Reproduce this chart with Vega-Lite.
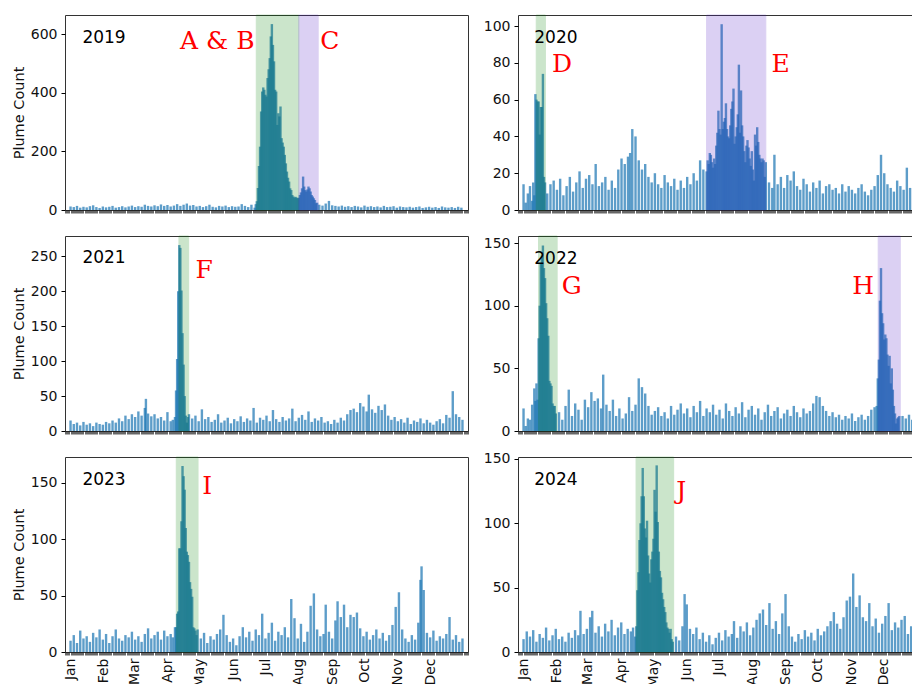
{
"$schema": "https://vega.github.io/schema/vega-lite/v6.json",
"background": "white",
"padding": {"left": 10, "top": 14, "right": 0, "bottom": 0},
"columns": 2,
"spacing": {"row": 26, "column": 50},
"bounds": "flush",
"config": {
 "view": {"stroke": "#333", "strokeWidth": 1},
 "axis": {"domain": false, "grid": false, "tickColor": "#000", "labelFont": "DejaVu Sans", "labelFontSize": 14, "labelColor": "#111", "labelOverlap": false, "titleFont": "DejaVu Sans", "titleFontSize": 14.5, "titleFontWeight": "normal", "titleColor": "#111"},
 "axisX": {"tickSize": 3, "tickWidth": 0.6, "labelAngle": -90, "labelOverlap": false, "labelFlush": false, "labelPadding": 3},
 "axisY": {"tickSize": 4, "labelPadding": 4, "titlePadding": 4, "labelOverlap": false}
},
"datasets": {
 "spans": [{"y":2019,"s":172.5,"e":212,"k":"g"},{"y":2019,"s":212,"e":230,"k":"p"},{"y":2020,"s":11.8,"e":20.3,"k":"g"},{"y":2020,"s":170,"e":225,"k":"p"},{"y":2021,"s":100.7,"e":109.7,"k":"g"},{"y":2022,"s":13.9,"e":31.2,"k":"g"},{"y":2022,"s":329.4,"e":349.9,"k":"p"},{"y":2023,"s":98.2,"e":118.4,"k":"g"},{"y":2024,"s":104.8,"e":139.8,"k":"g"}],
 "years": [{"y":2019,"d":11,"v":588,"t":"2019"},{"y":2020,"d":10,"v":93.6,"t":"2020"},{"y":2021,"d":11,"v":247,"t":"2021"},{"y":2022,"d":10,"v":137.4,"t":"2022"},{"y":2023,"d":11,"v":153,"t":"2023"},{"y":2024,"d":10,"v":133.6,"t":"2024"}],
 "letters": [{"y":2019,"d":101.6,"v":550,"t":"A & B"},{"y":2019,"d":232,"v":550,"t":"C"},{"y":2020,"d":26.4,"v":75,"t":"D"},{"y":2020,"d":230.2,"v":75,"t":"E"},{"y":2021,"d":116.1,"v":219.5,"t":"F"},{"y":2022,"d":35.5,"v":109.3,"t":"G"},{"y":2022,"d":305.4,"v":109.3,"t":"H"},{"y":2023,"d":122.4,"v":140.5,"t":"I"},{"y":2024,"d":142.2,"v":119,"t":"J"}],
 "b19": [{"d":0,"v":12},{"d":3,"v":10},{"d":6,"v":14},{"d":9,"v":8},{"d":12,"v":11},{"d":15,"v":9},{"d":18,"v":13},{"d":21,"v":16},{"d":24,"v":10},{"d":27,"v":7},{"d":30,"v":12},{"d":33,"v":9},{"d":36,"v":11},{"d":39,"v":14},{"d":42,"v":8},{"d":45,"v":10},{"d":48,"v":13},{"d":51,"v":9},{"d":54,"v":12},{"d":57,"v":15},{"d":60,"v":10},{"d":63,"v":13},{"d":66,"v":11},{"d":69,"v":18},{"d":72,"v":14},{"d":75,"v":12},{"d":78,"v":16},{"d":81,"v":13},{"d":84,"v":19},{"d":87,"v":14},{"d":90,"v":17},{"d":93,"v":12},{"d":96,"v":15},{"d":99,"v":20},{"d":102,"v":14},{"d":105,"v":18},{"d":108,"v":22},{"d":111,"v":15},{"d":114,"v":17},{"d":117,"v":12},{"d":120,"v":14},{"d":123,"v":10},{"d":126,"v":13},{"d":129,"v":18},{"d":132,"v":11},{"d":135,"v":9},{"d":138,"v":14},{"d":141,"v":12},{"d":144,"v":15},{"d":147,"v":10},{"d":150,"v":13},{"d":153,"v":11},{"d":156,"v":12},{"d":159,"v":20},{"d":162,"v":14},{"d":165,"v":10},{"d":168,"v":18},{"d":171,"v":8},
  {"d":172,"v":20},{"d":173,"v":30},{"d":174,"v":75},{"d":175,"v":150},{"d":176,"v":216},{"d":177,"v":336},{"d":178,"v":404},{"d":179,"v":418},{"d":180,"v":410},{"d":181,"v":393},{"d":182,"v":387},{"d":183,"v":450},{"d":184,"v":480},{"d":185,"v":518},{"d":186,"v":592},{"d":187,"v":634},{"d":188,"v":563},{"d":189,"v":507},{"d":190,"v":410},{"d":191,"v":404},{"d":192,"v":290},{"d":193,"v":330},{"d":194,"v":319},{"d":195,"v":353},{"d":196,"v":245},{"d":197,"v":230},{"d":198,"v":216},{"d":199,"v":188},{"d":200,"v":159},{"d":201,"v":131},{"d":202,"v":110},{"d":203,"v":97},{"d":204,"v":74},{"d":205,"v":68},{"d":206,"v":51},{"d":207,"v":46},{"d":208,"v":42},{"d":209,"v":45},{"d":210,"v":42},{"d":211,"v":40},{"d":212,"v":42},
  {"d":213,"v":51},{"d":214,"v":60},{"d":215,"v":74},{"d":216,"v":114},{"d":217,"v":80},{"d":218,"v":68},{"d":219,"v":63},{"d":220,"v":70},{"d":221,"v":80},{"d":222,"v":74},{"d":223,"v":63},{"d":224,"v":51},{"d":225,"v":46},{"d":226,"v":40},{"d":227,"v":34},{"d":228,"v":23},{"d":229,"v":25},
  {"d":231,"v":18},{"d":234,"v":15},{"d":237,"v":22},{"d":240,"v":31},{"d":243,"v":16},{"d":246,"v":14},{"d":249,"v":12},{"d":252,"v":15},{"d":255,"v":11},{"d":258,"v":13},{"d":261,"v":10},{"d":264,"v":14},{"d":267,"v":12},{"d":270,"v":9},{"d":273,"v":15},{"d":276,"v":11},{"d":279,"v":13},{"d":282,"v":10},{"d":285,"v":12},{"d":288,"v":9},{"d":291,"v":14},{"d":294,"v":10},{"d":297,"v":11},{"d":300,"v":13},{"d":303,"v":8},{"d":306,"v":12},{"d":309,"v":10},{"d":312,"v":9},{"d":315,"v":11},{"d":318,"v":8},{"d":321,"v":10},{"d":324,"v":12},{"d":327,"v":7},{"d":330,"v":9},{"d":333,"v":11},{"d":336,"v":8},{"d":339,"v":10},{"d":342,"v":7},{"d":345,"v":12},{"d":348,"v":9},{"d":351,"v":8},{"d":354,"v":10},{"d":357,"v":7},{"d":360,"v":11},{"d":363,"v":8}],
 "b20": [{"d":0,"v":14},{"d":2,"v":4},{"d":4,"v":9},{"d":6,"v":13},{"d":8,"v":5},{"d":9,"v":15},{"d":10,"v":8},
  {"d":11,"v":63},{"d":12,"v":60},{"d":13,"v":59},{"d":14,"v":59},{"d":15,"v":41},{"d":16,"v":56},{"d":17,"v":56},{"d":18,"v":74},{"d":19,"v":18},{"d":20,"v":15},
  {"d":22,"v":9},{"d":25,"v":14},{"d":28,"v":16},{"d":31,"v":11},{"d":34,"v":17},{"d":37,"v":8},{"d":40,"v":13},{"d":43,"v":18},{"d":46,"v":10},{"d":49,"v":15},{"d":52,"v":21},{"d":55,"v":12},{"d":58,"v":17},{"d":61,"v":19},{"d":64,"v":14},{"d":67,"v":25},{"d":70,"v":13},{"d":73,"v":15},{"d":76,"v":18},{"d":79,"v":11},{"d":82,"v":16},{"d":85,"v":12},{"d":88,"v":22},{"d":91,"v":28},{"d":94,"v":25},{"d":97,"v":29},{"d":99,"v":31},{"d":101,"v":44},{"d":104,"v":40},{"d":107,"v":27},{"d":110,"v":22},{"d":113,"v":25},{"d":116,"v":18},{"d":119,"v":15},{"d":122,"v":20},{"d":125,"v":14},{"d":128,"v":12},{"d":131,"v":19},{"d":134,"v":15},{"d":137,"v":13},{"d":140,"v":17},{"d":143,"v":11},{"d":146,"v":16},{"d":149,"v":12},{"d":152,"v":18},{"d":155,"v":14},{"d":158,"v":20},{"d":161,"v":16},{"d":164,"v":27},{"d":167,"v":22},
  {"d":170,"v":21},{"d":171,"v":27},{"d":172,"v":25},{"d":173,"v":31},{"d":174,"v":30},{"d":175,"v":26},{"d":176,"v":23},{"d":177,"v":28},{"d":178,"v":25},{"d":179,"v":35},{"d":180,"v":42},{"d":181,"v":54},{"d":182,"v":44},{"d":183,"v":41},{"d":184,"v":101},{"d":185,"v":44},{"d":186,"v":48},{"d":187,"v":50},{"d":188,"v":58},{"d":189,"v":44},{"d":190,"v":40},{"d":191,"v":39},{"d":192,"v":46},{"d":193,"v":55},{"d":194,"v":59},{"d":195,"v":66},{"d":196,"v":36},{"d":197,"v":40},{"d":198,"v":45},{"d":199,"v":52},{"d":200,"v":79},{"d":201,"v":42},{"d":202,"v":65},{"d":203,"v":46},{"d":204,"v":40},{"d":205,"v":32},{"d":206,"v":26},{"d":207,"v":35},{"d":208,"v":38},{"d":209,"v":34},{"d":210,"v":28},{"d":211,"v":24},{"d":212,"v":32},{"d":213,"v":22},{"d":214,"v":16},{"d":215,"v":41},{"d":216,"v":35},{"d":217,"v":45},{"d":218,"v":37},{"d":219,"v":30},{"d":220,"v":28},{"d":221,"v":26},{"d":222,"v":28},{"d":223,"v":27},{"d":224,"v":18},{"d":225,"v":26},
  {"d":228,"v":15},{"d":231,"v":12},{"d":233,"v":30},{"d":236,"v":14},{"d":239,"v":18},{"d":242,"v":12},{"d":245,"v":19},{"d":248,"v":16},{"d":251,"v":21},{"d":254,"v":13},{"d":257,"v":11},{"d":260,"v":17},{"d":263,"v":14},{"d":266,"v":10},{"d":269,"v":15},{"d":272,"v":12},{"d":275,"v":16},{"d":278,"v":9},{"d":281,"v":13},{"d":284,"v":14},{"d":287,"v":11},{"d":290,"v":12},{"d":293,"v":9},{"d":296,"v":14},{"d":299,"v":10},{"d":302,"v":13},{"d":305,"v":11},{"d":308,"v":9},{"d":311,"v":12},{"d":314,"v":14},{"d":317,"v":10},{"d":320,"v":8},{"d":323,"v":11},{"d":326,"v":13},{"d":329,"v":19},{"d":332,"v":30},{"d":335,"v":20},{"d":338,"v":14},{"d":341,"v":12},{"d":344,"v":10},{"d":347,"v":16},{"d":350,"v":13},{"d":353,"v":11},{"d":356,"v":23},{"d":359,"v":12},{"d":362,"v":15},{"d":365,"v":10}],
 "b21": [{"d":0,"v":15},{"d":3,"v":10},{"d":6,"v":12},{"d":9,"v":8},{"d":12,"v":13},{"d":15,"v":9},{"d":18,"v":11},{"d":21,"v":7},{"d":24,"v":12},{"d":27,"v":10},{"d":30,"v":9},{"d":33,"v":13},{"d":36,"v":11},{"d":39,"v":15},{"d":42,"v":12},{"d":45,"v":18},{"d":48,"v":14},{"d":51,"v":22},{"d":54,"v":17},{"d":57,"v":24},{"d":60,"v":20},{"d":63,"v":28},{"d":66,"v":22},{"d":69,"v":33},{"d":70,"v":46},{"d":72,"v":25},{"d":75,"v":21},{"d":78,"v":24},{"d":81,"v":18},{"d":84,"v":20},{"d":87,"v":15},{"d":90,"v":27},{"d":93,"v":14},{"d":95,"v":16},
  {"d":97,"v":20},{"d":98,"v":58},{"d":99,"v":103},{"d":100,"v":200},{"d":101,"v":266},{"d":102,"v":262},{"d":103,"v":201},{"d":104,"v":140},{"d":105,"v":95},{"d":106,"v":50},{"d":107,"v":22},{"d":108,"v":12},{"d":109,"v":20},{"d":110,"v":24},
  {"d":113,"v":18},{"d":116,"v":22},{"d":119,"v":14},{"d":122,"v":31},{"d":125,"v":17},{"d":128,"v":20},{"d":131,"v":13},{"d":134,"v":16},{"d":137,"v":24},{"d":140,"v":12},{"d":143,"v":15},{"d":146,"v":19},{"d":149,"v":11},{"d":152,"v":17},{"d":155,"v":14},{"d":158,"v":21},{"d":161,"v":13},{"d":164,"v":18},{"d":167,"v":15},{"d":170,"v":33},{"d":173,"v":12},{"d":176,"v":19},{"d":179,"v":16},{"d":182,"v":22},{"d":185,"v":14},{"d":188,"v":30},{"d":191,"v":17},{"d":194,"v":13},{"d":197,"v":20},{"d":200,"v":15},{"d":203,"v":18},{"d":206,"v":32},{"d":209,"v":14},{"d":212,"v":19},{"d":215,"v":23},{"d":218,"v":16},{"d":221,"v":28},{"d":224,"v":13},{"d":227,"v":18},{"d":230,"v":15},{"d":233,"v":20},{"d":236,"v":12},{"d":239,"v":14},{"d":242,"v":10},{"d":245,"v":16},{"d":248,"v":12},{"d":251,"v":19},{"d":254,"v":15},{"d":257,"v":24},{"d":260,"v":30},{"d":263,"v":32},{"d":266,"v":27},{"d":269,"v":40},{"d":272,"v":35},{"d":275,"v":28},{"d":277,"v":52},{"d":280,"v":31},{"d":283,"v":26},{"d":286,"v":36},{"d":289,"v":30},{"d":292,"v":38},{"d":295,"v":22},{"d":298,"v":16},{"d":301,"v":20},{"d":304,"v":14},{"d":307,"v":17},{"d":310,"v":12},{"d":313,"v":19},{"d":316,"v":10},{"d":319,"v":15},{"d":322,"v":13},{"d":325,"v":18},{"d":328,"v":11},{"d":331,"v":16},{"d":334,"v":12},{"d":337,"v":9},{"d":340,"v":14},{"d":343,"v":17},{"d":346,"v":11},{"d":349,"v":23},{"d":352,"v":19},{"d":355,"v":57},{"d":358,"v":24},{"d":361,"v":20},{"d":364,"v":16}],
 "b22": [{"d":0,"v":18},{"d":2,"v":4},{"d":4,"v":10},{"d":6,"v":9},{"d":8,"v":21},{"d":10,"v":34},{"d":11,"v":24},{"d":12,"v":38},
  {"d":13,"v":25},{"d":14,"v":74},{"d":15,"v":100},{"d":16,"v":134},{"d":17,"v":140},{"d":18,"v":148},{"d":19,"v":130},{"d":20,"v":122},{"d":21,"v":102},{"d":22,"v":90},{"d":23,"v":76},{"d":24,"v":40},{"d":25,"v":38},{"d":26,"v":36},{"d":27,"v":22},{"d":28,"v":20},{"d":29,"v":20},{"d":30,"v":14},
  {"d":33,"v":15},{"d":36,"v":9},{"d":39,"v":20},{"d":42,"v":33},{"d":45,"v":12},{"d":48,"v":22},{"d":51,"v":17},{"d":54,"v":9},{"d":57,"v":25},{"d":60,"v":19},{"d":63,"v":31},{"d":66,"v":24},{"d":69,"v":26},{"d":72,"v":18},{"d":74,"v":45},{"d":77,"v":21},{"d":80,"v":16},{"d":83,"v":25},{"d":86,"v":12},{"d":89,"v":18},{"d":92,"v":10},{"d":95,"v":14},{"d":98,"v":27},{"d":101,"v":16},{"d":104,"v":21},{"d":107,"v":42},{"d":110,"v":35},{"d":113,"v":30},{"d":116,"v":20},{"d":119,"v":13},{"d":122,"v":16},{"d":125,"v":19},{"d":128,"v":12},{"d":131,"v":15},{"d":134,"v":10},{"d":137,"v":20},{"d":140,"v":13},{"d":143,"v":17},{"d":146,"v":22},{"d":149,"v":14},{"d":152,"v":18},{"d":155,"v":11},{"d":158,"v":20},{"d":161,"v":15},{"d":164,"v":24},{"d":167,"v":12},{"d":170,"v":18},{"d":173,"v":15},{"d":176,"v":21},{"d":179,"v":13},{"d":182,"v":17},{"d":185,"v":10},{"d":188,"v":22},{"d":191,"v":16},{"d":194,"v":12},{"d":197,"v":19},{"d":200,"v":14},{"d":203,"v":23},{"d":206,"v":11},{"d":209,"v":17},{"d":212,"v":20},{"d":215,"v":13},{"d":218,"v":18},{"d":221,"v":9},{"d":224,"v":15},{"d":227,"v":21},{"d":230,"v":12},{"d":233,"v":16},{"d":236,"v":19},{"d":239,"v":10},{"d":242,"v":14},{"d":245,"v":17},{"d":248,"v":12},{"d":251,"v":20},{"d":254,"v":15},{"d":257,"v":11},{"d":260,"v":18},{"d":263,"v":14},{"d":266,"v":16},{"d":269,"v":22},{"d":272,"v":28},{"d":275,"v":27},{"d":278,"v":20},{"d":281,"v":16},{"d":284,"v":12},{"d":287,"v":15},{"d":290,"v":11},{"d":293,"v":13},{"d":296,"v":9},{"d":299,"v":12},{"d":302,"v":10},{"d":305,"v":14},{"d":308,"v":8},{"d":311,"v":11},{"d":314,"v":13},{"d":317,"v":9},{"d":320,"v":12},{"d":323,"v":17},{"d":326,"v":19},
  {"d":328,"v":20},{"d":329,"v":42},{"d":330,"v":57},{"d":331,"v":104},{"d":332,"v":130},{"d":333,"v":94},{"d":334,"v":86},{"d":335,"v":73},{"d":336,"v":77},{"d":337,"v":74},{"d":338,"v":61},{"d":339,"v":52},{"d":340,"v":60},{"d":341,"v":38},{"d":342,"v":50},{"d":343,"v":33},{"d":344,"v":20},{"d":345,"v":14},{"d":346,"v":6},{"d":347,"v":10},{"d":348,"v":11},{"d":349,"v":12},{"d":352,"v":12},{"d":355,"v":10},{"d":358,"v":13},{"d":361,"v":9},{"d":364,"v":12}],
 "b23": [{"d":0,"v":10},{"d":3,"v":15},{"d":6,"v":8},{"d":9,"v":19},{"d":12,"v":12},{"d":15,"v":14},{"d":18,"v":9},{"d":21,"v":17},{"d":24,"v":13},{"d":27,"v":20},{"d":30,"v":11},{"d":33,"v":16},{"d":36,"v":8},{"d":39,"v":14},{"d":42,"v":20},{"d":45,"v":12},{"d":48,"v":10},{"d":51,"v":15},{"d":54,"v":13},{"d":57,"v":18},{"d":60,"v":11},{"d":63,"v":14},{"d":66,"v":9},{"d":69,"v":16},{"d":72,"v":21},{"d":75,"v":12},{"d":78,"v":15},{"d":81,"v":18},{"d":84,"v":11},{"d":87,"v":19},{"d":90,"v":14},{"d":93,"v":16},{"d":95,"v":13},
  {"d":97,"v":22},{"d":98,"v":22},{"d":99,"v":34},{"d":100,"v":36},{"d":101,"v":92},{"d":102,"v":92},{"d":103,"v":116},{"d":104,"v":165},{"d":105,"v":156},{"d":106,"v":144},{"d":107,"v":110},{"d":108,"v":89},{"d":109,"v":86},{"d":110,"v":80},{"d":111,"v":62},{"d":112,"v":56},{"d":113,"v":49},{"d":114,"v":22},{"d":115,"v":21},{"d":116,"v":19},{"d":117,"v":15},{"d":118,"v":20},
  {"d":121,"v":12},{"d":124,"v":17},{"d":127,"v":8},{"d":130,"v":14},{"d":133,"v":11},{"d":136,"v":16},{"d":139,"v":20},{"d":142,"v":33},{"d":145,"v":15},{"d":148,"v":9},{"d":151,"v":12},{"d":154,"v":6},{"d":157,"v":14},{"d":160,"v":22},{"d":163,"v":13},{"d":166,"v":18},{"d":169,"v":10},{"d":172,"v":20},{"d":175,"v":15},{"d":178,"v":34},{"d":181,"v":12},{"d":184,"v":17},{"d":187,"v":26},{"d":190,"v":10},{"d":193,"v":18},{"d":196,"v":15},{"d":199,"v":22},{"d":202,"v":13},{"d":205,"v":47},{"d":208,"v":30},{"d":211,"v":12},{"d":214,"v":25},{"d":217,"v":9},{"d":220,"v":18},{"d":223,"v":41},{"d":226,"v":52},{"d":229,"v":20},{"d":232,"v":14},{"d":235,"v":16},{"d":237,"v":42},{"d":240,"v":18},{"d":243,"v":12},{"d":246,"v":28},{"d":248,"v":45},{"d":251,"v":31},{"d":254,"v":42},{"d":257,"v":22},{"d":260,"v":33},{"d":263,"v":31},{"d":266,"v":35},{"d":269,"v":21},{"d":272,"v":14},{"d":275,"v":18},{"d":278,"v":11},{"d":281,"v":15},{"d":284,"v":20},{"d":287,"v":12},{"d":290,"v":17},{"d":293,"v":10},{"d":296,"v":15},{"d":299,"v":24},{"d":302,"v":40},{"d":305,"v":53},{"d":308,"v":20},{"d":311,"v":12},{"d":314,"v":9},{"d":317,"v":15},{"d":320,"v":11},{"d":323,"v":26},{"d":325,"v":64},{"d":326,"v":76},{"d":328,"v":55},{"d":331,"v":17},{"d":334,"v":13},{"d":337,"v":19},{"d":340,"v":10},{"d":343,"v":14},{"d":346,"v":12},{"d":349,"v":16},{"d":352,"v":31},{"d":355,"v":11},{"d":358,"v":15},{"d":361,"v":9},{"d":364,"v":12}],
 "b24": [{"d":0,"v":10},{"d":3,"v":16},{"d":6,"v":12},{"d":9,"v":17},{"d":12,"v":8},{"d":15,"v":14},{"d":18,"v":11},{"d":21,"v":19},{"d":24,"v":9},{"d":27,"v":13},{"d":30,"v":18},{"d":33,"v":10},{"d":36,"v":12},{"d":39,"v":8},{"d":42,"v":15},{"d":45,"v":11},{"d":48,"v":17},{"d":51,"v":13},{"d":53,"v":32},{"d":56,"v":14},{"d":59,"v":18},{"d":62,"v":27},{"d":64,"v":32},{"d":67,"v":15},{"d":70,"v":20},{"d":73,"v":12},{"d":76,"v":22},{"d":79,"v":16},{"d":82,"v":25},{"d":85,"v":13},{"d":88,"v":19},{"d":91,"v":23},{"d":94,"v":14},{"d":97,"v":18},{"d":100,"v":16},{"d":102,"v":19},
  {"d":104,"v":12},{"d":105,"v":20},{"d":106,"v":48},{"d":107,"v":62},{"d":108,"v":87},{"d":109,"v":100},{"d":110,"v":121},{"d":111,"v":143},{"d":112,"v":121},{"d":113,"v":96},{"d":114,"v":89},{"d":115,"v":102},{"d":116,"v":75},{"d":117,"v":61},{"d":118,"v":54},{"d":119,"v":72},{"d":120,"v":78},{"d":121,"v":88},{"d":122,"v":126},{"d":123,"v":109},{"d":124,"v":145},{"d":125,"v":101},{"d":126,"v":78},{"d":127,"v":63},{"d":128,"v":58},{"d":129,"v":46},{"d":130,"v":41},{"d":131,"v":35},{"d":132,"v":31},{"d":133,"v":23},{"d":134,"v":19},{"d":135,"v":18},{"d":136,"v":15},{"d":137,"v":18},{"d":138,"v":10},{"d":139,"v":8},
  {"d":142,"v":12},{"d":145,"v":9},{"d":148,"v":20},{"d":150,"v":45},{"d":152,"v":37},{"d":155,"v":18},{"d":158,"v":14},{"d":161,"v":19},{"d":164,"v":10},{"d":167,"v":15},{"d":170,"v":8},{"d":173,"v":13},{"d":176,"v":6},{"d":179,"v":11},{"d":182,"v":15},{"d":185,"v":9},{"d":188,"v":17},{"d":191,"v":12},{"d":194,"v":14},{"d":196,"v":24},{"d":199,"v":11},{"d":202,"v":20},{"d":205,"v":16},{"d":208,"v":23},{"d":211,"v":13},{"d":214,"v":19},{"d":217,"v":25},{"d":220,"v":30},{"d":223,"v":33},{"d":226,"v":21},{"d":229,"v":38},{"d":232,"v":18},{"d":235,"v":24},{"d":238,"v":14},{"d":241,"v":30},{"d":244,"v":45},{"d":247,"v":20},{"d":250,"v":12},{"d":253,"v":8},{"d":256,"v":14},{"d":259,"v":10},{"d":262,"v":17},{"d":265,"v":12},{"d":268,"v":15},{"d":271,"v":9},{"d":274,"v":18},{"d":277,"v":13},{"d":280,"v":16},{"d":283,"v":20},{"d":286,"v":24},{"d":289,"v":31},{"d":292,"v":22},{"d":295,"v":18},{"d":298,"v":27},{"d":301,"v":40},{"d":304,"v":43},{"d":307,"v":61},{"d":310,"v":35},{"d":313,"v":44},{"d":316,"v":27},{"d":319,"v":24},{"d":322,"v":38},{"d":325,"v":20},{"d":328,"v":26},{"d":331,"v":15},{"d":334,"v":22},{"d":337,"v":28},{"d":340,"v":38},{"d":343,"v":17},{"d":346,"v":23},{"d":349,"v":19},{"d":352,"v":25},{"d":355,"v":28},{"d":358,"v":14},{"d":361,"v":20},{"d":364,"v":16}]
},
"concat": [
 {"width": 403, "height": 195, "layer": [
  {"data": {"name": "b19"}, "mark": {"type": "bar", "size": 2.4, "color": "#1f77b4", "opacity": 0.72},
   "encoding": {"x": {"field": "d", "type": "quantitative", "scale": {"domain": [-0.5, 364.5], "nice": false, "zero": false}, "axis": {"title": null, "labels": false, "tickCount": 365}},
    "y": {"field": "v", "type": "quantitative", "scale": {"domain": [0, 665], "nice": false}, "axis": {"title": "Plume Count", "values": [0, 200, 400, 600], "tickCount": 20, "labelOverlap": false}}}},
  {"data": {"name": "spans"}, "transform": [{"filter": "datum.y == 2019"}], "mark": {"type": "rect", "opacity": 0.2, "strokeWidth": 1},
   "encoding": {"x": {"field": "s", "type": "quantitative"}, "x2": {"field": "e"}, "color": {"field": "k", "type": "nominal", "scale": {"domain": ["g", "p"], "range": ["#008000", "#521cc4"]}, "legend": null}, "stroke": {"field": "k", "type": "nominal", "scale": {"domain": ["g", "p"], "range": ["#008000", "#521cc4"]}, "legend": null}}},
  {"data": {"name": "years"}, "transform": [{"filter": "datum.y == 2019"}], "mark": {"type": "text", "align": "left", "baseline": "middle", "font": "DejaVu Sans", "fontSize": 17, "color": "#000"},
   "encoding": {"x": {"field": "d", "type": "quantitative"}, "y": {"field": "v", "type": "quantitative"}, "text": {"field": "t"}}},
  {"data": {"name": "letters"}, "transform": [{"filter": "datum.y == 2019"}], "mark": {"type": "text", "align": "left", "baseline": "alphabetic", "font": "DejaVu Serif", "fontSize": 25, "color": "#ff0000"},
   "encoding": {"x": {"field": "d", "type": "quantitative"}, "y": {"field": "v", "type": "quantitative"}, "text": {"field": "t"}}}
 ]},
 {"width": 403, "height": 195, "layer": [
  {"data": {"name": "b20"}, "mark": {"type": "bar", "size": 2.4, "color": "#1f77b4", "opacity": 0.72},
   "encoding": {"x": {"field": "d", "type": "quantitative", "scale": {"domain": [-0.5, 364.5], "nice": false, "zero": false}, "axis": {"title": null, "labels": false, "tickCount": 365}},
    "y": {"field": "v", "type": "quantitative", "scale": {"domain": [0, 106], "nice": false}, "axis": {"title": null, "values": [0, 20, 40, 60, 80, 100], "tickCount": 20, "labelOverlap": false}}}},
  {"data": {"name": "spans"}, "transform": [{"filter": "datum.y == 2020"}], "mark": {"type": "rect", "opacity": 0.2, "strokeWidth": 1},
   "encoding": {"x": {"field": "s", "type": "quantitative"}, "x2": {"field": "e"}, "color": {"field": "k", "type": "nominal", "scale": {"domain": ["g", "p"], "range": ["#008000", "#521cc4"]}, "legend": null}, "stroke": {"field": "k", "type": "nominal", "scale": {"domain": ["g", "p"], "range": ["#008000", "#521cc4"]}, "legend": null}}},
  {"data": {"name": "years"}, "transform": [{"filter": "datum.y == 2020"}], "mark": {"type": "text", "align": "left", "baseline": "middle", "font": "DejaVu Sans", "fontSize": 17, "color": "#000"},
   "encoding": {"x": {"field": "d", "type": "quantitative"}, "y": {"field": "v", "type": "quantitative"}, "text": {"field": "t"}}},
  {"data": {"name": "letters"}, "transform": [{"filter": "datum.y == 2020"}], "mark": {"type": "text", "align": "left", "baseline": "alphabetic", "font": "DejaVu Serif", "fontSize": 25, "color": "#ff0000"},
   "encoding": {"x": {"field": "d", "type": "quantitative"}, "y": {"field": "v", "type": "quantitative"}, "text": {"field": "t"}}}
 ]},
 {"width": 403, "height": 195, "layer": [
  {"data": {"name": "b21"}, "mark": {"type": "bar", "size": 2.4, "color": "#1f77b4", "opacity": 0.72},
   "encoding": {"x": {"field": "d", "type": "quantitative", "scale": {"domain": [-0.5, 364.5], "nice": false, "zero": false}, "axis": {"title": null, "labels": false, "tickCount": 365}},
    "y": {"field": "v", "type": "quantitative", "scale": {"domain": [0, 279], "nice": false}, "axis": {"title": "Plume Count", "values": [0, 50, 100, 150, 200, 250], "tickCount": 20, "labelOverlap": false}}}},
  {"data": {"name": "spans"}, "transform": [{"filter": "datum.y == 2021"}], "mark": {"type": "rect", "opacity": 0.2, "strokeWidth": 1},
   "encoding": {"x": {"field": "s", "type": "quantitative"}, "x2": {"field": "e"}, "color": {"field": "k", "type": "nominal", "scale": {"domain": ["g", "p"], "range": ["#008000", "#521cc4"]}, "legend": null}, "stroke": {"field": "k", "type": "nominal", "scale": {"domain": ["g", "p"], "range": ["#008000", "#521cc4"]}, "legend": null}}},
  {"data": {"name": "years"}, "transform": [{"filter": "datum.y == 2021"}], "mark": {"type": "text", "align": "left", "baseline": "middle", "font": "DejaVu Sans", "fontSize": 17, "color": "#000"},
   "encoding": {"x": {"field": "d", "type": "quantitative"}, "y": {"field": "v", "type": "quantitative"}, "text": {"field": "t"}}},
  {"data": {"name": "letters"}, "transform": [{"filter": "datum.y == 2021"}], "mark": {"type": "text", "align": "left", "baseline": "alphabetic", "font": "DejaVu Serif", "fontSize": 25, "color": "#ff0000"},
   "encoding": {"x": {"field": "d", "type": "quantitative"}, "y": {"field": "v", "type": "quantitative"}, "text": {"field": "t"}}}
 ]},
 {"width": 403, "height": 195, "layer": [
  {"data": {"name": "b22"}, "mark": {"type": "bar", "size": 2.4, "color": "#1f77b4", "opacity": 0.72},
   "encoding": {"x": {"field": "d", "type": "quantitative", "scale": {"domain": [-0.5, 364.5], "nice": false, "zero": false}, "axis": {"title": null, "labels": false, "tickCount": 365}},
    "y": {"field": "v", "type": "quantitative", "scale": {"domain": [0, 155.6], "nice": false}, "axis": {"title": null, "values": [0, 50, 100, 150], "tickCount": 20, "labelOverlap": false}}}},
  {"data": {"name": "spans"}, "transform": [{"filter": "datum.y == 2022"}], "mark": {"type": "rect", "opacity": 0.2, "strokeWidth": 1},
   "encoding": {"x": {"field": "s", "type": "quantitative"}, "x2": {"field": "e"}, "color": {"field": "k", "type": "nominal", "scale": {"domain": ["g", "p"], "range": ["#008000", "#521cc4"]}, "legend": null}, "stroke": {"field": "k", "type": "nominal", "scale": {"domain": ["g", "p"], "range": ["#008000", "#521cc4"]}, "legend": null}}},
  {"data": {"name": "years"}, "transform": [{"filter": "datum.y == 2022"}], "mark": {"type": "text", "align": "left", "baseline": "middle", "font": "DejaVu Sans", "fontSize": 17, "color": "#000"},
   "encoding": {"x": {"field": "d", "type": "quantitative"}, "y": {"field": "v", "type": "quantitative"}, "text": {"field": "t"}}},
  {"data": {"name": "letters"}, "transform": [{"filter": "datum.y == 2022"}], "mark": {"type": "text", "align": "left", "baseline": "alphabetic", "font": "DejaVu Serif", "fontSize": 25, "color": "#ff0000"},
   "encoding": {"x": {"field": "d", "type": "quantitative"}, "y": {"field": "v", "type": "quantitative"}, "text": {"field": "t"}}}
 ]},
 {"width": 403, "height": 195, "layer": [
  {"data": {"name": "b23"}, "mark": {"type": "bar", "size": 2.4, "color": "#1f77b4", "opacity": 0.72},
   "encoding": {"x": {"field": "d", "type": "quantitative", "scale": {"domain": [-0.5, 364.5], "nice": false, "zero": false}, "axis": {"title": null, "tickCount": 365, "labelExpr": "indexof([0,31,59,90,120,151,181,212,243,273,304,334], datum.value) >= 0 ? ['Jan','Feb','Mar','Apr','May','Jun','Jul','Aug','Sep','Oct','Nov','Dec'][indexof([0,31,59,90,120,151,181,212,243,273,304,334], datum.value)] : ''"}},
    "y": {"field": "v", "type": "quantitative", "scale": {"domain": [0, 173], "nice": false}, "axis": {"title": "Plume Count", "values": [0, 50, 100, 150], "tickCount": 20, "labelOverlap": false}}}},
  {"data": {"name": "spans"}, "transform": [{"filter": "datum.y == 2023"}], "mark": {"type": "rect", "opacity": 0.2, "strokeWidth": 1},
   "encoding": {"x": {"field": "s", "type": "quantitative"}, "x2": {"field": "e"}, "color": {"field": "k", "type": "nominal", "scale": {"domain": ["g", "p"], "range": ["#008000", "#521cc4"]}, "legend": null}, "stroke": {"field": "k", "type": "nominal", "scale": {"domain": ["g", "p"], "range": ["#008000", "#521cc4"]}, "legend": null}}},
  {"data": {"name": "years"}, "transform": [{"filter": "datum.y == 2023"}], "mark": {"type": "text", "align": "left", "baseline": "middle", "font": "DejaVu Sans", "fontSize": 17, "color": "#000"},
   "encoding": {"x": {"field": "d", "type": "quantitative"}, "y": {"field": "v", "type": "quantitative"}, "text": {"field": "t"}}},
  {"data": {"name": "letters"}, "transform": [{"filter": "datum.y == 2023"}], "mark": {"type": "text", "align": "left", "baseline": "alphabetic", "font": "DejaVu Serif", "fontSize": 25, "color": "#ff0000"},
   "encoding": {"x": {"field": "d", "type": "quantitative"}, "y": {"field": "v", "type": "quantitative"}, "text": {"field": "t"}}}
 ]},
 {"width": 403, "height": 195, "layer": [
  {"data": {"name": "b24"}, "mark": {"type": "bar", "size": 2.4, "color": "#1f77b4", "opacity": 0.72},
   "encoding": {"x": {"field": "d", "type": "quantitative", "scale": {"domain": [-0.5, 365.5], "nice": false, "zero": false}, "axis": {"title": null, "tickCount": 366, "labelExpr": "indexof([0,31,60,91,121,152,182,213,244,274,305,335], datum.value) >= 0 ? ['Jan','Feb','Mar','Apr','May','Jun','Jul','Aug','Sep','Oct','Nov','Dec'][indexof([0,31,60,91,121,152,182,213,244,274,305,335], datum.value)] : ''"}},
    "y": {"field": "v", "type": "quantitative", "scale": {"domain": [0, 151.5], "nice": false}, "axis": {"title": null, "values": [0, 50, 100, 150], "tickCount": 20, "labelOverlap": false}}}},
  {"data": {"name": "spans"}, "transform": [{"filter": "datum.y == 2024"}], "mark": {"type": "rect", "opacity": 0.2, "strokeWidth": 1},
   "encoding": {"x": {"field": "s", "type": "quantitative"}, "x2": {"field": "e"}, "color": {"field": "k", "type": "nominal", "scale": {"domain": ["g", "p"], "range": ["#008000", "#521cc4"]}, "legend": null}, "stroke": {"field": "k", "type": "nominal", "scale": {"domain": ["g", "p"], "range": ["#008000", "#521cc4"]}, "legend": null}}},
  {"data": {"name": "years"}, "transform": [{"filter": "datum.y == 2024"}], "mark": {"type": "text", "align": "left", "baseline": "middle", "font": "DejaVu Sans", "fontSize": 17, "color": "#000"},
   "encoding": {"x": {"field": "d", "type": "quantitative"}, "y": {"field": "v", "type": "quantitative"}, "text": {"field": "t"}}},
  {"data": {"name": "letters"}, "transform": [{"filter": "datum.y == 2024"}], "mark": {"type": "text", "align": "left", "baseline": "alphabetic", "font": "DejaVu Serif", "fontSize": 25, "color": "#ff0000"},
   "encoding": {"x": {"field": "d", "type": "quantitative"}, "y": {"field": "v", "type": "quantitative"}, "text": {"field": "t"}}}
 ]}
]
}
